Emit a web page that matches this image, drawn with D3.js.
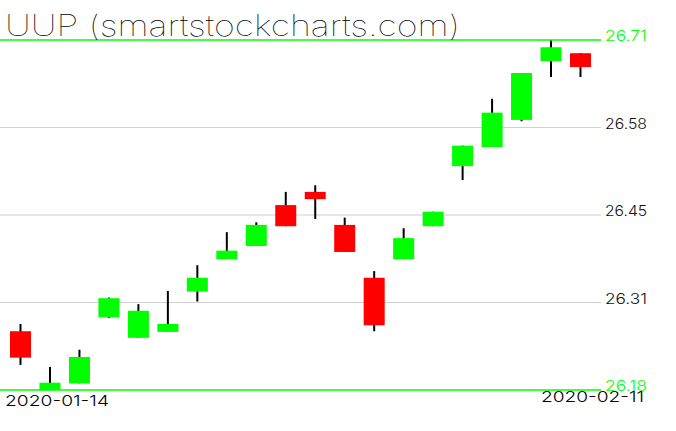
<!DOCTYPE html>
<html>
<head>
<meta charset="utf-8">
<script src="https://cdn.jsdelivr.net/npm/d3@7"></script>
<style>
  html, body { margin: 0; padding: 0; background: #fff; }
  svg { display: block; }
</style>
</head>
<body>
<svg id="chart" width="676" height="431"></svg>
<script>
const dates = ["2020-01-14","2020-01-15","2020-01-16","2020-01-17","2020-01-21","2020-01-22","2020-01-23","2020-01-24","2020-01-27","2020-01-28","2020-01-29","2020-01-30","2020-01-31","2020-02-03","2020-02-04","2020-02-05","2020-02-06","2020-02-07","2020-02-10","2020-02-11"];
const opens  = [26.269,26.180,26.190,26.290,26.259,26.268,26.329,26.378,26.398,26.460,26.480,26.430,26.350,26.378,26.428,26.519,26.548,26.589,26.678,26.690];
const highs  = [26.280,26.215,26.241,26.320,26.310,26.330,26.369,26.419,26.434,26.480,26.490,26.441,26.360,26.425,26.450,26.550,26.621,26.660,26.710,26.690];
const lows   = [26.218,26.180,26.190,26.289,26.259,26.268,26.314,26.378,26.398,26.428,26.439,26.389,26.269,26.378,26.428,26.498,26.548,26.587,26.654,26.654];
const closes = [26.229,26.191,26.230,26.319,26.300,26.280,26.350,26.391,26.430,26.428,26.469,26.389,26.278,26.410,26.450,26.550,26.600,26.660,26.699,26.669];
const title = "UUP (smartstockcharts.com)";

const data = dates.map((d, i) => ({ date: d, o: opens[i], h: highs[i], l: lows[i], c: closes[i] }));

const svg = d3.select("#chart");
const plotLeft = 0, plotRight = 601, plotTop = 40, plotBottom = 390;

const yMin = d3.min(lows), yMax = d3.max(highs);
const y = d3.scaleLinear().domain([yMin, yMax]).range([plotBottom, plotTop]);
const x = d3.scalePoint().domain(dates).range([20.5, 580.5]);
const bodyW = 21;

const levels = d3.range(5).map(k => yMin + (yMax - yMin) * k / 4);

svg.append("g").selectAll("line").data(levels.slice(1, 4)).join("line")
  .attr("x1", plotLeft).attr("x2", plotRight)
  .attr("y1", d => y(d)).attr("y2", d => y(d))
  .attr("stroke", "#d0d0d0").attr("stroke-width", 1.2);

const g = svg.append("g");
g.selectAll("line.wick").data(data).join("line")
  .attr("class", "wick")
  .attr("x1", d => x(d.date)).attr("x2", d => x(d.date))
  .attr("y1", d => y(d.h)).attr("y2", d => y(d.l))
  .attr("stroke", "#000").attr("stroke-width", 2);
g.selectAll("rect").data(data).join("rect")
  .attr("x", d => x(d.date) - bodyW / 2)
  .attr("width", bodyW)
  .attr("y", d => y(Math.max(d.o, d.c)))
  .attr("height", d => Math.max(1, y(Math.min(d.o, d.c)) - y(Math.max(d.o, d.c))))
  .attr("fill", d => d.c >= d.o ? "#00ff00" : "#ff0000");

svg.append("g").selectAll("line").data([levels[0], levels[4]]).join("line")
  .attr("x1", plotLeft).attr("x2", plotRight)
  .attr("y1", d => y(d)).attr("y2", d => y(d))
  .attr("stroke", "#00ff00").attr("stroke-width", 1.5);

const font = "'DejaVu Sans', sans-serif";
const thinFont = "Inter, Roboto, Lato, 'DejaVu Sans', sans-serif";
svg.append("text").text(dates[0])
  .attr("x", 5).attr("y", 406)
  .attr("font-family", thinFont).attr("font-size", 15).attr("font-weight", 300)
  .attr("textLength", 104).attr("lengthAdjust", "spacingAndGlyphs")
  .attr("fill", "#000");
svg.append("text").text(dates[dates.length - 1])
  .attr("x", 541).attr("y", 402)
  .attr("font-family", thinFont).attr("font-size", 15).attr("font-weight", 300)
  .attr("textLength", 103).attr("lengthAdjust", "spacingAndGlyphs")
  .attr("fill", "#000");

svg.append("g").selectAll("text").data(levels).join("text")
  .text(d => d.toFixed(2))
  .attr("x", 605).attr("y", d => y(d) + 1)
  .attr("font-family", thinFont).attr("font-size", 14).attr("font-weight", 300)
  .attr("textLength", 42).attr("lengthAdjust", "spacingAndGlyphs")
  .attr("fill", (d, i) => (i === 0 || i === 4) ? "#00ff00" : "#111");

svg.append("text").text(title)
  .attr("x", 5).attr("y", 36)
  .attr("font-family", thinFont).attr("font-size", 29).attr("font-weight", 100)
  .attr("textLength", 455).attr("lengthAdjust", "spacingAndGlyphs")
  .attr("fill", "#000");
</script>
</body>
</html>
